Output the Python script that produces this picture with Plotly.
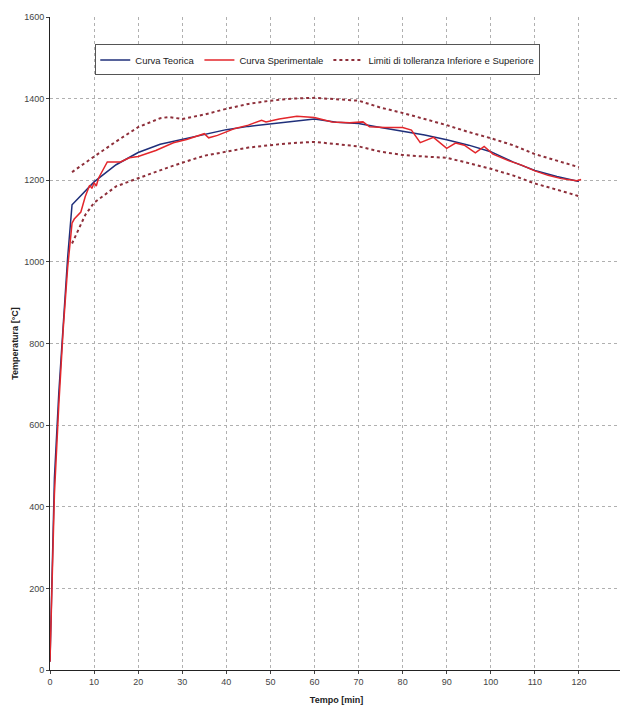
import plotly.graph_objects as go

# Theoretical curve
t_teo = [0, 1, 2, 3, 4, 5, 10, 15, 20, 25, 30, 35, 40, 45, 50, 55, 60, 65, 70, 75, 80, 85, 90, 95, 100, 105, 110, 115, 120]
T_teo = [20, 470, 680, 860, 1010, 1140, 1196, 1238, 1268, 1288, 1300, 1313, 1324, 1332, 1338, 1344, 1350, 1342, 1339, 1329, 1320, 1311, 1299, 1286, 1270, 1245, 1224, 1209, 1197]

# Experimental curve
t_exp = [0, 1, 2, 3, 4, 5, 5.5, 7, 8, 9, 9.5, 10, 10.5, 11, 13, 16, 18, 20, 24, 28, 31, 35, 36, 38, 42, 45, 48, 49, 52, 56, 60, 64, 68, 71, 72.5, 76, 80, 82, 84, 87, 90, 92, 94, 96.5, 98.5, 100.5, 104, 107, 110, 113, 116, 119.5, 120.5]
T_exp = [20, 430, 650, 835, 985, 1095, 1105, 1122, 1160, 1188, 1180, 1194, 1186, 1205, 1245, 1245, 1255, 1258, 1273, 1292, 1300, 1314, 1304, 1310, 1327, 1335, 1347, 1343, 1350, 1357, 1354, 1343, 1341, 1343, 1331, 1329, 1329, 1323, 1292, 1305, 1278, 1291, 1286, 1267, 1283, 1264, 1248, 1237, 1223, 1212, 1204, 1199, 1202]

# Tolerance limits
t_lim = [5, 6, 8, 10, 15, 20, 25, 27, 30, 35, 40, 45, 50, 55, 60, 65, 70, 75, 80, 85, 90, 95, 100, 105, 110, 115, 120]
T_up = [1220, 1228, 1244, 1258, 1295, 1330, 1352, 1355, 1350, 1361, 1375, 1387, 1395, 1400, 1402, 1399, 1395, 1378, 1365, 1350, 1335, 1318, 1303, 1286, 1264, 1248, 1232]
T_low = [1045, 1068, 1115, 1145, 1185, 1205, 1225, 1232, 1243, 1260, 1270, 1280, 1286, 1291, 1294, 1289, 1283, 1270, 1262, 1258, 1255, 1242, 1228, 1212, 1192, 1177, 1161]

x_ticks = list(range(0, 131, 10))
y_ticks = list(range(0, 1601, 200))

font = "Liberation Sans, Arial, sans-serif"
lim_color = "#8e2f3a"

fig = go.Figure()
fig.add_trace(go.Scatter(x=t_teo, y=T_teo, mode="lines", name="Curva Teorica",
                         line=dict(color="#1f2f7a", width=1.5)))
fig.add_trace(go.Scatter(x=t_exp, y=T_exp, mode="lines", name="Curva Sperimentale",
                         line=dict(color="#e3262b", width=1.5)))
fig.add_trace(go.Scatter(x=t_lim, y=T_up, mode="lines", name="Limiti di tolleranza Inferiore e Superiore",
                         line=dict(color=lim_color, width=2, dash="dot"), legendgroup="lim"))
fig.add_trace(go.Scatter(x=t_lim, y=T_low, mode="lines", showlegend=False,
                         line=dict(color=lim_color, width=2, dash="dot"), legendgroup="lim"))

fig.update_layout(
    width=620, height=698,
    margin=dict(l=41.5, r=4.5, t=8.6, b=36),
    paper_bgcolor="white", plot_bgcolor="white",
    font=dict(family=font, size=9, color="#333333"),
    showlegend=True,
    legend=dict(orientation="h", x=0.079, y=0.958, xanchor="left", yanchor="top",
                bordercolor="#555555", borderwidth=1, bgcolor="white",
                font=dict(size=9.5, color="#222222"), itemwidth=30, tracegroupgap=0),
)
fig.update_xaxes(range=[0, 130], tickvals=x_ticks, ticks="outside", ticklen=3,
                 showline=True, linecolor="#222222", linewidth=1, automargin=False,
                 showgrid=True, gridcolor="#b0b0b0", griddash="dot", gridwidth=1,
                 zeroline=False, tickfont=dict(size=9, color="#444444"),
                 title=dict(text="<b>Tempo [min]</b>", font=dict(size=9, color="#222222"), standoff=10))
fig.update_yaxes(range=[0, 1600], tickvals=y_ticks, ticks="outside", ticklen=3,
                 showline=True, linecolor="#222222", linewidth=1, automargin=False,
                 showgrid=True, gridcolor="#b0b0b0", griddash="dot", gridwidth=1,
                 zeroline=False, tickfont=dict(size=9, color="#444444"),
                 title=dict(text="<b>Temperatura [°C]</b>", font=dict(size=9, color="#222222"), standoff=4))

fig.write_html("out.html")
